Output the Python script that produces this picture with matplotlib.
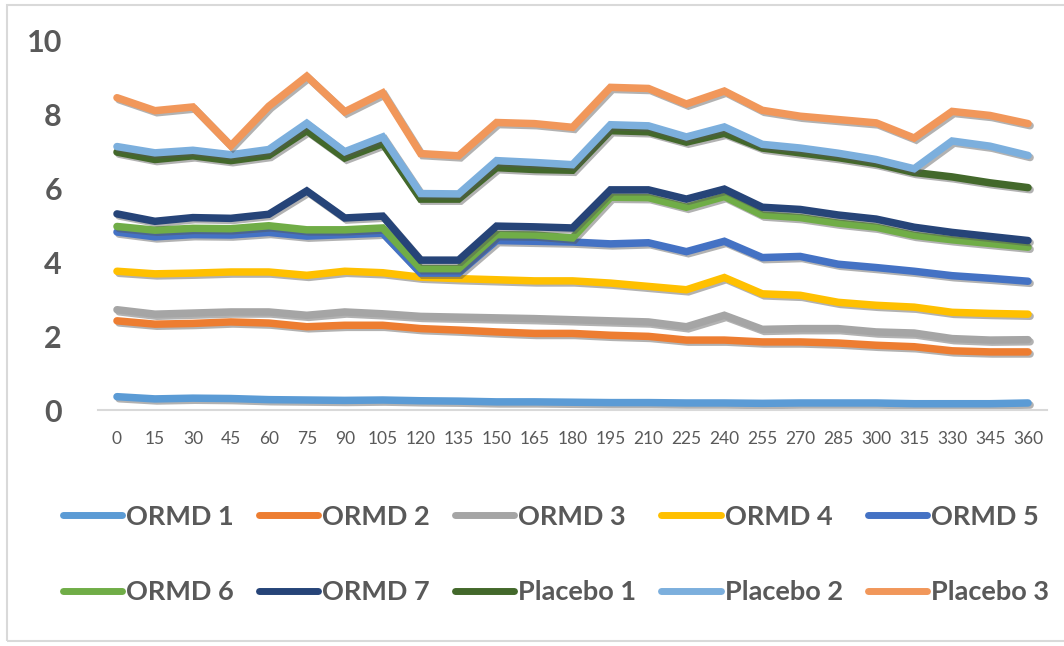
import matplotlib
matplotlib.use("Agg")
import matplotlib.pyplot as plt
import matplotlib.patheffects as pe
from matplotlib.patches import Rectangle
import numpy as np

# time points (minutes)
times = [0, 15, 30, 45, 60, 75, 90, 105, 120, 135, 150, 165, 180,
         195, 210, 225, 240, 255, 270, 285, 300, 315, 330, 345, 360]

ormd1 = [0.36, 0.30, 0.32, 0.31, 0.28, 0.27, 0.26, 0.27, 0.25, 0.24, 0.22, 0.22, 0.21,
         0.20, 0.20, 0.19, 0.19, 0.18, 0.19, 0.19, 0.19, 0.17, 0.17, 0.17, 0.19]
ormd2 = [2.41, 2.32, 2.34, 2.38, 2.35, 2.25, 2.29, 2.29, 2.20, 2.16, 2.11, 2.07, 2.07,
         2.02, 1.99, 1.89, 1.89, 1.84, 1.84, 1.81, 1.75, 1.71, 1.60, 1.57, 1.57]
ormd3 = [2.71, 2.59, 2.62, 2.65, 2.65, 2.56, 2.65, 2.60, 2.53, 2.51, 2.49, 2.47, 2.44,
         2.41, 2.38, 2.25, 2.56, 2.18, 2.20, 2.20, 2.11, 2.08, 1.93, 1.89, 1.90]
ormd4 = [3.75, 3.68, 3.70, 3.73, 3.73, 3.64, 3.75, 3.71, 3.59, 3.55, 3.52, 3.49, 3.49,
         3.43, 3.34, 3.25, 3.58, 3.14, 3.10, 2.91, 2.83, 2.78, 2.64, 2.61, 2.59]
ormd5 = [4.81, 4.68, 4.74, 4.73, 4.80, 4.70, 4.74, 4.78, 3.70, 3.70, 4.58, 4.56, 4.54,
         4.49, 4.52, 4.28, 4.56, 4.12, 4.15, 3.94, 3.85, 3.75, 3.63, 3.56, 3.48]
ormd6 = [4.96, 4.86, 4.91, 4.90, 4.98, 4.87, 4.87, 4.92, 3.82, 3.82, 4.74, 4.73, 4.65,
         5.75, 5.74, 5.48, 5.77, 5.27, 5.20, 5.05, 4.94, 4.72, 4.60, 4.50, 4.40]
ormd7 = [5.30, 5.10, 5.20, 5.18, 5.29, 5.92, 5.19, 5.24, 4.05, 4.05, 4.97, 4.95, 4.92,
         5.95, 5.95, 5.70, 5.97, 5.48, 5.42, 5.27, 5.16, 4.94, 4.80, 4.69, 4.58]
placebo1 = [6.97, 6.77, 6.87, 6.74, 6.88, 7.55, 6.81, 7.20, 5.70, 5.70, 6.55, 6.50, 6.48,
            7.55, 7.52, 7.24, 7.48, 7.08, 6.95, 6.82, 6.66, 6.42, 6.30, 6.14, 6.01]
placebo2 = [7.12, 6.95, 7.02, 6.90, 7.04, 7.75, 6.98, 7.38, 5.85, 5.84, 6.74, 6.69, 6.63,
            7.71, 7.68, 7.38, 7.65, 7.18, 7.08, 6.94, 6.77, 6.52, 7.27, 7.13, 6.88]
placebo3 = [8.44, 8.09, 8.19, 7.14, 8.21, 9.02, 8.06, 8.57, 6.93, 6.87, 7.77, 7.74, 7.64,
            8.72, 8.69, 8.27, 8.62, 8.10, 7.94, 7.85, 7.76, 7.35, 8.07, 7.96, 7.74]

series = [
    ("ORMD 1", ormd1, "#5B9BD5"),
    ("ORMD 2", ormd2, "#ED7D31"),
    ("ORMD 3", ormd3, "#A5A5A5"),
    ("ORMD 4", ormd4, "#FFC000"),
    ("ORMD 5", ormd5, "#4472C4"),
    ("ORMD 6", ormd6, "#70AD47"),
    ("ORMD 7", ormd7, "#264478"),
    ("Placebo 1", placebo1, "#43682B"),
    ("Placebo 2", placebo2, "#7CAFDD"),
    ("Placebo 3", placebo3, "#F1975A"),
]

text_color = "#595959"
plt.rcParams["font.family"] = ["Lato", "DejaVu Sans"]

fig = plt.figure(figsize=(10.64, 6.46), dpi=100)
ax = fig.add_axes([98 / 1064, 1 - 410 / 646, (1047 - 98) / 1064, (410 - 40) / 646])

x = np.arange(len(times))
shadow = [pe.SimpleLineShadow(offset=(1.5, -1.5), shadow_color="#555555", alpha=0.45),
          pe.Normal()]
handles = []
for name, vals, color in series:
    line, = ax.plot(x, vals, color=color, lw=5.4, label=name,
                    solid_joinstyle="miter", solid_capstyle="round",
                    path_effects=shadow)
    handles.append(line)

ax.set_xlim(-0.5, len(times) - 0.5)
ax.set_ylim(0, 10)
ax.set_yticks([0, 2, 4, 6, 8, 10])
ax.set_xticks(x, [str(t) for t in times])

for s in ["top", "right", "left"]:
    ax.spines[s].set_visible(False)
ax.spines["bottom"].set_color("#D9D9D9")
ax.spines["bottom"].set_linewidth(1.5)

ax.tick_params(axis="y", length=0, pad=26, labelsize=22, labelcolor=text_color)
for lbl in ax.get_yticklabels():
    lbl.set_fontweight("bold")
ax.tick_params(axis="x", length=0, pad=15, labelsize=12.5, labelcolor=text_color)

# legend fills column-first, reorder so rows read ORMD 1..5 / ORMD 6..Placebo 3
ncol = 5
order = [r * ncol + c for c in range(ncol) for r in range(2)]
leg = fig.legend(handles=[handles[i] for i in order], loc="lower left", ncol=ncol,
                 bbox_to_anchor=(52 / 1064, 31 / 646, 1008 / 1064, 120 / 646),
                 mode="expand", frameon=False, handlelength=2.2, handletextpad=0.15,
                 labelspacing=1.9, borderaxespad=0,
                 prop={"size": 19.5, "weight": "bold"})
for t in leg.get_texts():
    t.set_color(text_color)
for h in leg.legend_handles:
    h.set_path_effects([])
    h.set_solid_capstyle("round")
    h.set_linewidth(5)

# chart border
fig.patches.append(Rectangle((7 / 1064, 5 / 646), 1.1, 636 / 646,
                             transform=fig.transFigure, fill=False,
                             edgecolor="#D9D9D9", lw=1.5))

fig.savefig("out.png", dpi=100)
